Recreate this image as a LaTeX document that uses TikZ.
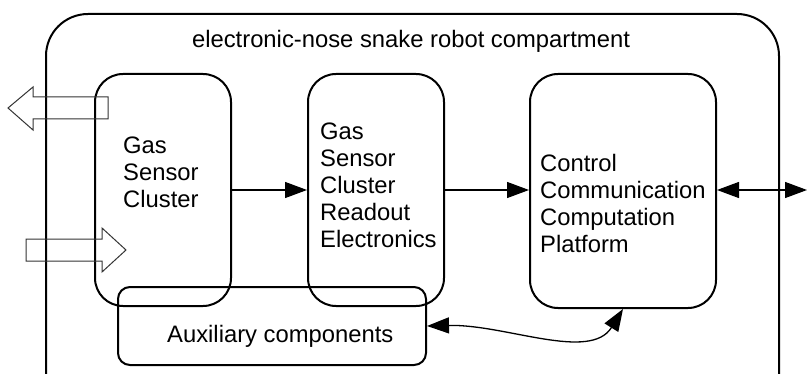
\documentclass[tikz,border=0pt]{standalone}
\usepackage{fontspec}
\setmainfont{Liberation Sans}
\usetikzlibrary{arrows.meta}
\begin{document}
\begin{tikzpicture}[x=1pt,y=-1pt,
  box/.style={draw,line width=2pt,rounded corners=#1,inner sep=0pt},
  box/.default=28pt,
  label/.style={font=\fontsize{23.8}{27}\selectfont,inner sep=0pt,align=left},
  conn/.style={line width=1.3pt,-{Triangle[length=22pt,width=16pt]}},
  bothconn/.style={line width=1.3pt,{Triangle[length=22pt,width=16pt]}-{Triangle[length=22pt,width=16pt]}},
  hollow/.style={line width=1pt,draw=black!80,line join=miter}]
\useasboundingbox (0,0) rectangle (808,374);

% outer compartment (runs off the bottom edge)
\node[box=42pt,minimum width=733pt,minimum height=440pt] (compartment) at (412.5,234) {};
\node[label,anchor=base] (title) at (411,48) {electronic-nose snake robot compartment};

% inner modules
\node[box,minimum width=136pt,minimum height=232pt] (gas) at (163,190) {};
\node[box,minimum width=136pt,minimum height=232pt] (readout) at (376,190) {};
\node[box,minimum width=186pt,minimum height=234pt] (control) at (623,191) {};
\node[box=12pt,minimum width=308pt,minimum height=78pt] (aux) at (272,326) {};

% module texts
\node[label,anchor=north west] (gastext) at (123,137) {Gas\\Sensor\\Cluster};
\node[label,anchor=north west] (readtext) at (320,123) {Gas\\Sensor\\Cluster\\Readout\\Electronics};
\node[label,anchor=north west] (ctrltext) at (540,154) {Control\\Communication\\Computation\\Platform};
\node[label,anchor=base west] (auxtext) at (167,342) {Auxiliary components};

% signal flow
\draw[conn] (gas.east) -- (readout.west);
\draw[conn] (readout.east) -- (readout.east -| control.west);
\coordinate (ext) at (807,190);
\draw[bothconn] (control.east |- ext) -- (ext);
\draw[bothconn] (aux.east) .. controls (505,324) and (590,362) .. (control.south);

% hollow in/out arrows at the sensor cluster
\draw[hollow] (8,108) -- (33,87) -- (33,97) -- (108,97) -- (108,119) -- (33,119) -- (33,130) -- cycle;
\draw[hollow] (26,239) -- (102,239) -- (102,228) -- (126,250) -- (102,272) -- (102,261) -- (26,261) -- cycle;
\end{tikzpicture}
\end{document}
